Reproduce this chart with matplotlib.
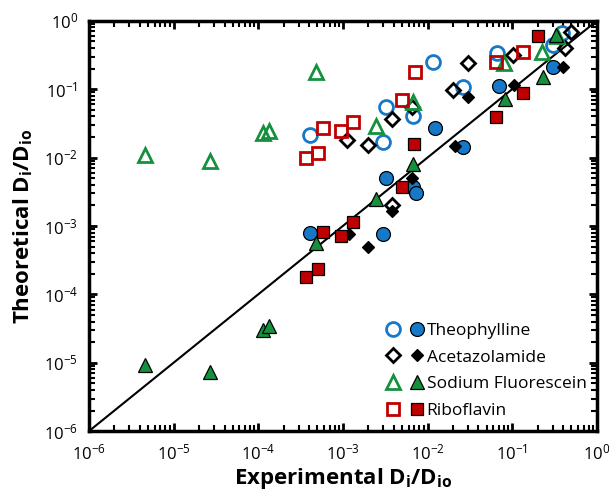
import numpy as np
import matplotlib
matplotlib.use("Agg")
import matplotlib.pyplot as plt
from matplotlib.legend_handler import HandlerTuple

plt.rcParams['font.family'] = ['Open Sans', 'DejaVu Sans']
plt.rcParams['mathtext.fontset'] = 'custom'
plt.rcParams['mathtext.rm'] = 'Open Sans'
plt.rcParams['mathtext.bf'] = 'Open Sans:bold'

# --- DATA ---
# Theophylline
theo_open_x = [4.06e-4, 2.96e-3, 3.2e-3, 6.7e-3, 0.0115, 0.026, 0.067, 0.30, 0.384]
theo_open_y = [0.0214, 0.017, 0.055, 0.041, 0.25, 0.108, 0.34, 0.445, 0.67]
theo_fill_x = [4.06e-4, 2.96e-3, 3.2e-3, 6.7e-3, 7.3e-3, 0.0122, 0.026, 0.069, 0.30]
theo_fill_y = [7.9e-4, 7.6e-4, 5.0e-3, 3.7e-3, 3.0e-3, 0.027, 0.0143, 0.112, 0.212]

# Acetazolamide
acet_open_x = [1.11e-3, 2.0e-3, 3.8e-3, 6.6e-3, 0.0198, 0.030, 0.101, 0.417, 0.50, 3.8e-3]
acet_open_y = [0.018, 0.0153, 0.037, 0.055, 0.098, 0.243, 0.318, 0.40, 0.69, 2.0e-3]
acet_fill_x = [1.17e-3, 2.0e-3, 3.8e-3, 6.6e-3, 0.021, 0.030, 0.105, 0.40]
acet_fill_y = [7.6e-4, 4.9e-4, 1.65e-3, 5.0e-3, 0.0148, 0.077, 0.116, 0.212]

# Sodium Fluorescein
sf_open_x = [4.6e-6, 2.7e-5, 1.13e-4, 1.33e-4, 4.8e-4, 2.45e-3, 6.7e-3, 0.081, 0.223, 0.335]
sf_open_y = [1.1e-2, 8.9e-3, 0.023, 0.0245, 0.179, 0.029, 0.065, 0.243, 0.35, 0.60]
sf_fill_x = [4.6e-6, 2.7e-5, 1.13e-4, 1.33e-4, 4.8e-4, 2.45e-3, 6.7e-3, 0.083, 0.229, 0.33]
sf_fill_y = [9.2e-6, 7.3e-6, 3.0e-5, 3.4e-5, 5.6e-4, 2.5e-3, 8.1e-3, 0.072, 0.151, 0.62]

# Riboflavin
ribo_open_x = [3.65e-4, 5.06e-4, 5.8e-4, 9.4e-4, 1.31e-3, 4.95e-3, 7.2e-3, 0.064, 0.133]
ribo_open_y = [9.9e-3, 0.0117, 0.027, 0.0245, 0.033, 0.070, 0.179, 0.25, 0.35]
ribo_fill_x = [3.65e-4, 5.06e-4, 5.8e-4, 9.4e-4, 1.31e-3, 4.95e-3, 7.0e-3, 0.064, 0.133, 0.20]
ribo_fill_y = [1.79e-4, 2.34e-4, 8.1e-4, 7.1e-4, 1.14e-3, 3.7e-3, 0.0158, 0.039, 0.088, 0.60]

labels = ["Theophylline", "Acetazolamide", "Sodium Fluorescein", "Riboflavin"]
colors = ["#1878c8", "black", "#15913d", "#c00000"]
markers = ["o", "D", "^", "s"]
sizes = [10, 7.5, 10, 9]

series = [
    (theo_open_x, theo_open_y, theo_fill_x, theo_fill_y),
    (acet_open_x, acet_open_y, acet_fill_x, acet_fill_y),
    (sf_open_x, sf_open_y, sf_fill_x, sf_fill_y),
    (ribo_open_x, ribo_open_y, ribo_fill_x, ribo_fill_y),
]

fig = plt.figure(figsize=(6.09, 4.95), dpi=100)
ax = fig.add_axes([0.146, 0.129, 0.834, 0.829])

ax.plot([1e-6, 1], [1e-6, 1], color="black", lw=1.5, zorder=1)

handles = []
for (ox, oy, fx, fy), lab, c, m, ms in zip(series, labels, colors, markers, sizes):
    h_open, = ax.plot(ox, oy, ls="none", marker=m, ms=ms, mfc="none",
                      mec=c, mew=2.0, zorder=3)
    fill_ms = ms * 0.75 if m == "D" else ms
    h_fill, = ax.plot(fx, fy, ls="none", marker=m, ms=fill_ms, mfc=c,
                      mec="black" if m != "D" else c, mew=0.9, zorder=4)
    handles.append((h_open, h_fill))

ax.set_xscale("log")
ax.set_yscale("log")
ax.set_xlim(1e-6, 1)
ax.set_ylim(1e-6, 1)

for s in ax.spines.values():
    s.set_linewidth(2.5)
ax.tick_params(which="both", direction="in", top=True, right=True, labelsize=12)
ax.tick_params(which="major", length=6, width=2)
ax.tick_params(which="minor", length=4, width=1.5)
ax.tick_params(axis="x", pad=9)
ax.tick_params(axis="y", pad=8)

ax.set_xlabel(r"Experimental D$_{\mathbf{i}}$/D$_{\mathbf{io}}$", fontsize=16,
              fontweight="bold", labelpad=2)
ax.set_ylabel(r"Theoretical D$_{\mathbf{i}}$/D$_{\mathbf{io}}$", fontsize=16,
              fontweight="bold", labelpad=6)

ax.legend(handles, labels, handler_map={tuple: HandlerTuple(ndivide=None, pad=0.8)},
          loc="lower right", bbox_to_anchor=(1.0, 0.005), frameon=False, fontsize=12.5,
          handlelength=2.0, handletextpad=0.25, labelspacing=0.6, borderaxespad=0.2)

fig.savefig("out.png", dpi=100)
